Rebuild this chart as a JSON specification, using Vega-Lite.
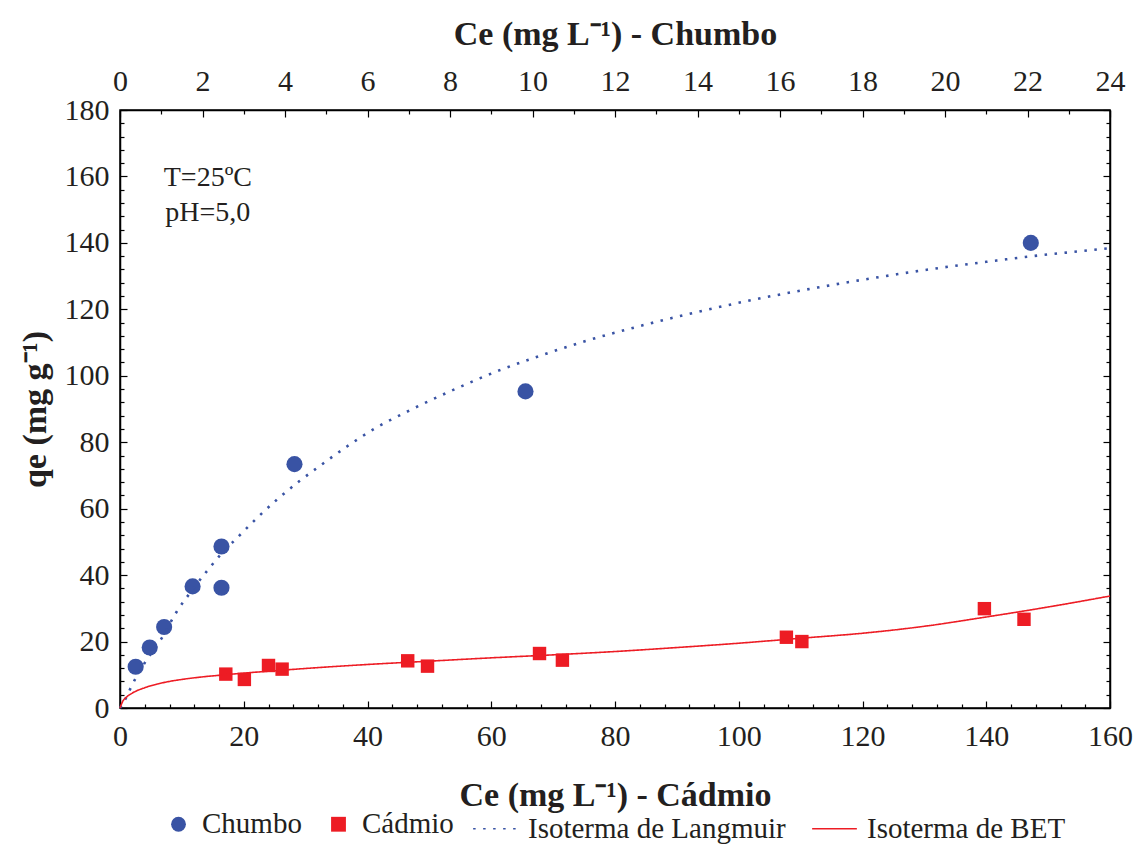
{
  "$schema": "https://vega.github.io/schema/vega-lite/v6.json",
  "width": 990,
  "height": 598,
  "autosize": {"type": "none"},
  "padding": {"left": 120, "top": 110, "right": 26, "bottom": 141},
  "background": "white",
  "config": {
    "font": "Liberation Serif",
    "view": {"stroke": "black", "strokeWidth": 1.5},
    "axis": {
      "grid": false,
      "domainColor": "black",
      "domainWidth": 1.5,
      "tickColor": "black",
      "tickWidth": 1.2,
      "labelFlush": false,
      "labelOverlap": false,
      "labelFont": "Liberation Serif",
      "labelFontSize": 30,
      "labelColor": "#231f20",
      "titleFont": "Liberation Serif",
      "titleFontSize": 34,
      "titleFontWeight": "bold",
      "titleColor": "#231f20"
    },
    "legend": {
      "orient": "bottom",
      "direction": "horizontal",
      "labelFont": "Liberation Serif",
      "labelFontSize": 29,
      "labelColor": "#231f20",
      "labelLimit": 0,
      "labelOffset": 9,
      "columnPadding": 22,
      "offset": -7,
      "padding": 0,
      "layout": {"bottom": {"direction": "horizontal", "anchor": "middle", "center": true, "margin": 18}}
    }
  },
  "datasets": {
    "chumbo": [
      {"serie": "Chumbo", "ce": 0.38, "qe": 12.4},
      {"serie": "Chumbo", "ce": 0.72, "qe": 18.2},
      {"serie": "Chumbo", "ce": 1.07, "qe": 24.4},
      {"serie": "Chumbo", "ce": 1.76, "qe": 36.6},
      {"serie": "Chumbo", "ce": 2.46, "qe": 48.6},
      {"serie": "Chumbo", "ce": 2.46, "qe": 36.2},
      {"serie": "Chumbo", "ce": 4.23, "qe": 73.4},
      {"serie": "Chumbo", "ce": 9.83, "qe": 95.3},
      {"serie": "Chumbo", "ce": 22.08, "qe": 140.0}
    ],
    "cadmio": [
      {"serie": "Cádmio", "ce": 17.1, "qe": 10.2},
      {"serie": "Cádmio", "ce": 20.1, "qe": 8.6},
      {"serie": "Cádmio", "ce": 24.0, "qe": 12.8},
      {"serie": "Cádmio", "ce": 26.2, "qe": 11.7},
      {"serie": "Cádmio", "ce": 46.5, "qe": 14.2},
      {"serie": "Cádmio", "ce": 49.7, "qe": 12.6},
      {"serie": "Cádmio", "ce": 67.8, "qe": 16.4},
      {"serie": "Cádmio", "ce": 71.5, "qe": 14.4},
      {"serie": "Cádmio", "ce": 107.7, "qe": 21.3},
      {"serie": "Cádmio", "ce": 110.2, "qe": 20.0},
      {"serie": "Cádmio", "ce": 139.7, "qe": 29.9},
      {"serie": "Cádmio", "ce": 146.1, "qe": 26.7}
    ],
    "langmuir": [
      {"serie": "Isoterma de Langmuir", "ce": 0, "qe": 0},
      {"serie": "Isoterma de Langmuir", "ce": 0.16, "qe": 3.4},
      {"serie": "Isoterma de Langmuir", "ce": 0.28, "qe": 6.6},
      {"serie": "Isoterma de Langmuir", "ce": 0.6, "qe": 13.6},
      {"serie": "Isoterma de Langmuir", "ce": 1.0, "qe": 20.8},
      {"serie": "Isoterma de Langmuir", "ce": 1.37, "qe": 28.9},
      {"serie": "Isoterma de Langmuir", "ce": 1.75, "qe": 35.5},
      {"serie": "Isoterma de Langmuir", "ce": 2.14, "qe": 41.7},
      {"serie": "Isoterma de Langmuir", "ce": 2.5, "qe": 47.0},
      {"serie": "Isoterma de Langmuir", "ce": 2.83, "qe": 51.1},
      {"serie": "Isoterma de Langmuir", "ce": 3.33, "qe": 57.3},
      {"serie": "Isoterma de Langmuir", "ce": 3.84, "qe": 63.1},
      {"serie": "Isoterma de Langmuir", "ce": 4.35, "qe": 68.3},
      {"serie": "Isoterma de Langmuir", "ce": 4.87, "qe": 73.1},
      {"serie": "Isoterma de Langmuir", "ce": 5.5, "qe": 78.7},
      {"serie": "Isoterma de Langmuir", "ce": 6.2, "qe": 84.3},
      {"serie": "Isoterma de Langmuir", "ce": 6.91, "qe": 88.9},
      {"serie": "Isoterma de Langmuir", "ce": 8.0, "qe": 95.3},
      {"serie": "Isoterma de Langmuir", "ce": 9.21, "qe": 101.7},
      {"serie": "Isoterma de Langmuir", "ce": 10.2, "qe": 106.1},
      {"serie": "Isoterma de Langmuir", "ce": 11.27, "qe": 110.4},
      {"serie": "Isoterma de Langmuir", "ce": 12.4, "qe": 114.3},
      {"serie": "Isoterma de Langmuir", "ce": 13.58, "qe": 118.0},
      {"serie": "Isoterma de Langmuir", "ce": 15.4, "qe": 123.0},
      {"serie": "Isoterma de Langmuir", "ce": 17.29, "qe": 127.4},
      {"serie": "Isoterma de Langmuir", "ce": 18.5, "qe": 129.9},
      {"serie": "Isoterma de Langmuir", "ce": 19.72, "qe": 132.2},
      {"serie": "Isoterma de Langmuir", "ce": 21.0, "qe": 134.3},
      {"serie": "Isoterma de Langmuir", "ce": 22.26, "qe": 136.2},
      {"serie": "Isoterma de Langmuir", "ce": 23.2, "qe": 137.4},
      {"serie": "Isoterma de Langmuir", "ce": 24.0, "qe": 138.4}
    ],
    "bet": [
      {"serie": "Isoterma de BET", "ce": 0, "qe": 0},
      {"serie": "Isoterma de BET", "ce": 0.5, "qe": 2.2},
      {"serie": "Isoterma de BET", "ce": 1, "qe": 3.2},
      {"serie": "Isoterma de BET", "ce": 2, "qe": 4.5},
      {"serie": "Isoterma de BET", "ce": 4, "qe": 6.1},
      {"serie": "Isoterma de BET", "ce": 6, "qe": 7.2},
      {"serie": "Isoterma de BET", "ce": 8, "qe": 8.0},
      {"serie": "Isoterma de BET", "ce": 10, "qe": 8.6},
      {"serie": "Isoterma de BET", "ce": 13, "qe": 9.3},
      {"serie": "Isoterma de BET", "ce": 17, "qe": 10.0},
      {"serie": "Isoterma de BET", "ce": 20, "qe": 10.5},
      {"serie": "Isoterma de BET", "ce": 25, "qe": 11.2},
      {"serie": "Isoterma de BET", "ce": 30, "qe": 11.9},
      {"serie": "Isoterma de BET", "ce": 40, "qe": 13.1},
      {"serie": "Isoterma de BET", "ce": 50, "qe": 14.1},
      {"serie": "Isoterma de BET", "ce": 60, "qe": 15.1},
      {"serie": "Isoterma de BET", "ce": 70, "qe": 16.0},
      {"serie": "Isoterma de BET", "ce": 80, "qe": 17.0},
      {"serie": "Isoterma de BET", "ce": 90, "qe": 18.2},
      {"serie": "Isoterma de BET", "ce": 100, "qe": 19.5},
      {"serie": "Isoterma de BET", "ce": 110, "qe": 21.0},
      {"serie": "Isoterma de BET", "ce": 120, "qe": 22.5},
      {"serie": "Isoterma de BET", "ce": 130, "qe": 24.6},
      {"serie": "Isoterma de BET", "ce": 140, "qe": 27.4},
      {"serie": "Isoterma de BET", "ce": 150, "qe": 30.4},
      {"serie": "Isoterma de BET", "ce": 160, "qe": 33.7}
    ]
  },
  "layer": [
    {
      "layer": [
        {
          "data": {"name": "chumbo"},
          "mark": {"type": "point", "filled": true, "opacity": 1, "size": 260},
          "encoding": {
            "x": {"field": "ce", "type": "quantitative", "scale": {"domain": [0, 24], "nice": false},
              "axis": {"orient": "top", "title": "Ce (mg L⁻¹) - Chumbo", "titlePadding": 12, "labelPadding": 21,
                "values": [0,1,2,3,4,5,6,7,8,9,10,11,12,13,14,15,16,17,18,19,20,21,22,23,24],
                "labelExpr": "datum.value % 2 === 0 ? datum.label : ''",
                "tickSize": {"condition": {"test": "datum.value % 2 === 0", "value": -7}, "value": -4}}},
            "y": {"field": "qe", "type": "quantitative", "scale": {"domain": [0, 180], "nice": false},
              "axis": {"orient": "left", "title": "qe (mg g⁻¹)", "titlePadding": 12, "labelPadding": 18,
                "values": [0,4,8,12,16,20,24,28,32,36,40,44,48,52,56,60,64,68,72,76,80,84,88,92,96,100,104,108,112,116,120,124,128,132,136,140,144,148,152,156,160,164,168,172,176,180],
                "labelExpr": "datum.value % 20 === 0 ? datum.label : ''",
                "tickSize": {"condition": {"test": "datum.value % 20 === 0", "value": -7}, "value": -4}}},
            "fill": {"field": "serie", "type": "nominal", "title": null,
              "scale": {"domain": ["Chumbo", "Cádmio"], "range": ["#3953a4", "#ed1c24"]},
              "legend": {"symbolSize": 220}},
            "shape": {"field": "serie", "type": "nominal", "title": null,
              "scale": {"domain": ["Chumbo", "Cádmio"], "range": ["circle", "square"]},
              "legend": {"symbolSize": 220}}
          }
        },
        {
          "data": {"name": "langmuir"},
          "mark": {"type": "line", "strokeWidth": 2.6, "strokeDash": [2.5, 7.5], "interpolate": "monotone"},
          "encoding": {
            "x": {"field": "ce", "type": "quantitative", "scale": {"domain": [0, 24], "nice": false},
              "axis": {"orient": "top", "title": "Ce (mg L⁻¹) - Chumbo", "titlePadding": 12, "labelPadding": 21,
                "values": [0,1,2,3,4,5,6,7,8,9,10,11,12,13,14,15,16,17,18,19,20,21,22,23,24],
                "labelExpr": "datum.value % 2 === 0 ? datum.label : ''",
                "tickSize": {"condition": {"test": "datum.value % 2 === 0", "value": -7}, "value": -4}}},
            "y": {"field": "qe", "type": "quantitative", "scale": {"domain": [0, 180], "nice": false},
              "axis": {"orient": "left", "title": "qe (mg g⁻¹)", "titlePadding": 12, "labelPadding": 18,
                "values": [0,4,8,12,16,20,24,28,32,36,40,44,48,52,56,60,64,68,72,76,80,84,88,92,96,100,104,108,112,116,120,124,128,132,136,140,144,148,152,156,160,164,168,172,176,180],
                "labelExpr": "datum.value % 20 === 0 ? datum.label : ''",
                "tickSize": {"condition": {"test": "datum.value % 20 === 0", "value": -7}, "value": -4}}},
            "stroke": {"field": "serie", "type": "nominal", "title": null,
              "scale": {"domain": ["Isoterma de Langmuir", "Isoterma de BET"], "range": ["#3953a4", "#ed1c24"]},
              "legend": {"symbolSize": 2000, "symbolStrokeWidth": 1.6}},
            "strokeDash": {"field": "serie", "type": "nominal", "title": null,
              "scale": {"domain": ["Isoterma de Langmuir", "Isoterma de BET"], "range": [[2.5, 7.5], [1, 0]]},
              "legend": {"symbolSize": 2000, "symbolStrokeWidth": 1.6}}
          }
        },
        {
          "data": {"values": [{}]},
          "mark": {"type": "text", "fontSize": 28, "font": "Liberation Serif", "color": "#231f20", "align": "center", "baseline": "middle"},
          "encoding": {
            "x": {"datum": 2.13, "type": "quantitative", "scale": {"domain": [0, 24], "nice": false},
              "axis": {"orient": "top", "title": "Ce (mg L⁻¹) - Chumbo", "titlePadding": 12, "labelPadding": 21,
                "values": [0,1,2,3,4,5,6,7,8,9,10,11,12,13,14,15,16,17,18,19,20,21,22,23,24],
                "labelExpr": "datum.value % 2 === 0 ? datum.label : ''",
                "tickSize": {"condition": {"test": "datum.value % 2 === 0", "value": -7}, "value": -4}}},
            "y": {"datum": 159.5, "type": "quantitative", "scale": {"domain": [0, 180], "nice": false},
              "axis": {"orient": "left", "title": "qe (mg g⁻¹)", "titlePadding": 12, "labelPadding": 18,
                "values": [0,4,8,12,16,20,24,28,32,36,40,44,48,52,56,60,64,68,72,76,80,84,88,92,96,100,104,108,112,116,120,124,128,132,136,140,144,148,152,156,160,164,168,172,176,180],
                "labelExpr": "datum.value % 20 === 0 ? datum.label : ''",
                "tickSize": {"condition": {"test": "datum.value % 20 === 0", "value": -7}, "value": -4}}},
            "text": {"value": "T=25ºC"}
          }
        },
        {
          "data": {"values": [{}]},
          "mark": {"type": "text", "fontSize": 28, "font": "Liberation Serif", "color": "#231f20", "align": "center", "baseline": "middle"},
          "encoding": {
            "x": {"datum": 2.13, "type": "quantitative", "scale": {"domain": [0, 24], "nice": false},
              "axis": {"orient": "top", "title": "Ce (mg L⁻¹) - Chumbo", "titlePadding": 12, "labelPadding": 21,
                "values": [0,1,2,3,4,5,6,7,8,9,10,11,12,13,14,15,16,17,18,19,20,21,22,23,24],
                "labelExpr": "datum.value % 2 === 0 ? datum.label : ''",
                "tickSize": {"condition": {"test": "datum.value % 2 === 0", "value": -7}, "value": -4}}},
            "y": {"datum": 149, "type": "quantitative", "scale": {"domain": [0, 180], "nice": false},
              "axis": {"orient": "left", "title": "qe (mg g⁻¹)", "titlePadding": 12, "labelPadding": 18,
                "values": [0,4,8,12,16,20,24,28,32,36,40,44,48,52,56,60,64,68,72,76,80,84,88,92,96,100,104,108,112,116,120,124,128,132,136,140,144,148,152,156,160,164,168,172,176,180],
                "labelExpr": "datum.value % 20 === 0 ? datum.label : ''",
                "tickSize": {"condition": {"test": "datum.value % 20 === 0", "value": -7}, "value": -4}}},
            "text": {"value": "pH=5,0"}
          }
        }
      ]
    },
    {
      "layer": [
        {
          "data": {"name": "cadmio"},
          "mark": {"type": "point", "filled": true, "opacity": 1, "size": 180},
          "encoding": {
            "x": {"field": "ce", "type": "quantitative", "scale": {"domain": [0, 160], "nice": false},
              "axis": {"orient": "bottom", "title": "Ce (mg L⁻¹) - Cádmio", "titlePadding": 24, "labelPadding": 20,
                "values": [0,4,8,12,16,20,24,28,32,36,40,44,48,52,56,60,64,68,72,76,80,84,88,92,96,100,104,108,112,116,120,124,128,132,136,140,144,148,152,156,160],
                "labelExpr": "datum.value % 20 === 0 ? datum.label : ''",
                "tickSize": {"condition": {"test": "datum.value % 20 === 0", "value": -7}, "value": -4}}},
            "y": {"field": "qe", "type": "quantitative", "scale": {"domain": [0, 180], "nice": false},
              "axis": {"orient": "right", "title": null, "labels": false,
                "values": [0,4,8,12,16,20,24,28,32,36,40,44,48,52,56,60,64,68,72,76,80,84,88,92,96,100,104,108,112,116,120,124,128,132,136,140,144,148,152,156,160,164,168,172,176,180],
                "tickSize": {"condition": {"test": "datum.value % 20 === 0", "value": -7}, "value": -4}}},
            "fill": {"field": "serie", "type": "nominal", "title": null,
              "scale": {"domain": ["Chumbo", "Cádmio"], "range": ["#3953a4", "#ed1c24"]},
              "legend": {"symbolSize": 220}},
            "shape": {"field": "serie", "type": "nominal", "title": null,
              "scale": {"domain": ["Chumbo", "Cádmio"], "range": ["circle", "square"]},
              "legend": {"symbolSize": 220}}
          }
        },
        {
          "data": {"name": "bet"},
          "mark": {"type": "line", "strokeWidth": 1.6, "interpolate": "monotone"},
          "encoding": {
            "x": {"field": "ce", "type": "quantitative", "scale": {"domain": [0, 160], "nice": false},
              "axis": {"orient": "bottom", "title": "Ce (mg L⁻¹) - Cádmio", "titlePadding": 24, "labelPadding": 20,
                "values": [0,4,8,12,16,20,24,28,32,36,40,44,48,52,56,60,64,68,72,76,80,84,88,92,96,100,104,108,112,116,120,124,128,132,136,140,144,148,152,156,160],
                "labelExpr": "datum.value % 20 === 0 ? datum.label : ''",
                "tickSize": {"condition": {"test": "datum.value % 20 === 0", "value": -7}, "value": -4}}},
            "y": {"field": "qe", "type": "quantitative", "scale": {"domain": [0, 180], "nice": false},
              "axis": {"orient": "right", "title": null, "labels": false,
                "values": [0,4,8,12,16,20,24,28,32,36,40,44,48,52,56,60,64,68,72,76,80,84,88,92,96,100,104,108,112,116,120,124,128,132,136,140,144,148,152,156,160,164,168,172,176,180],
                "tickSize": {"condition": {"test": "datum.value % 20 === 0", "value": -7}, "value": -4}}},
            "stroke": {"field": "serie", "type": "nominal", "title": null,
              "scale": {"domain": ["Isoterma de Langmuir", "Isoterma de BET"], "range": ["#3953a4", "#ed1c24"]},
              "legend": {"symbolSize": 2000, "symbolStrokeWidth": 1.6}},
            "strokeDash": {"field": "serie", "type": "nominal", "title": null,
              "scale": {"domain": ["Isoterma de Langmuir", "Isoterma de BET"], "range": [[2.5, 7.5], [1, 0]]},
              "legend": {"symbolSize": 2000, "symbolStrokeWidth": 1.6}}
          }
        }
      ]
    }
  ],
  "resolve": {"scale": {"x": "independent"}, "axis": {"x": "independent", "y": "independent"}}
}
